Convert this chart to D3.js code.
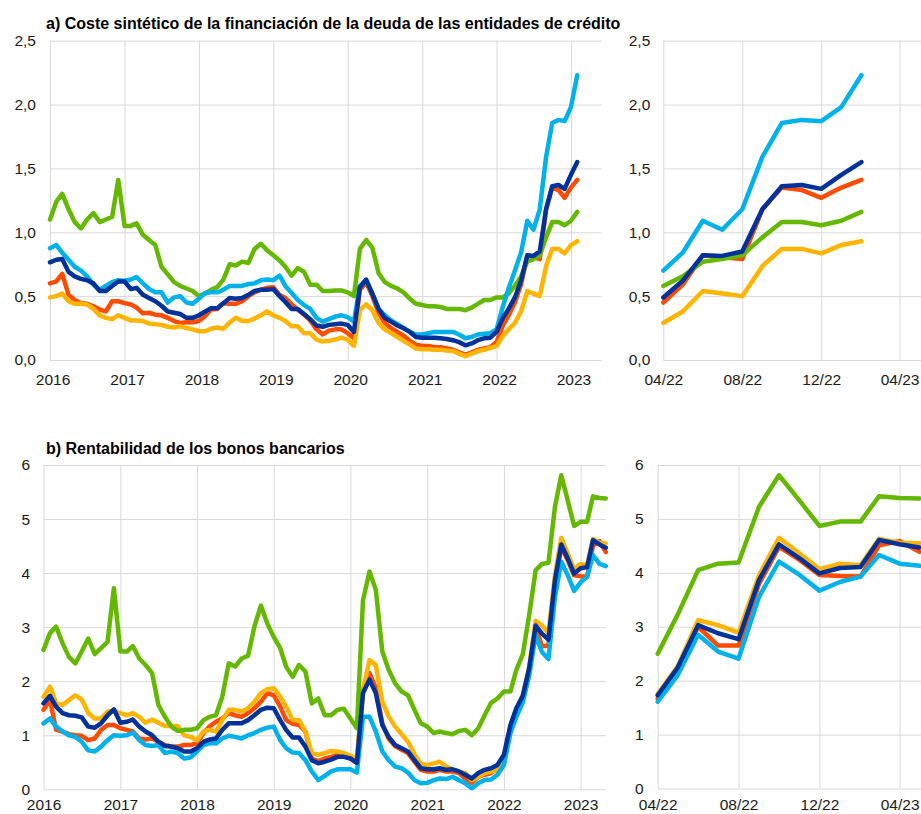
<!DOCTYPE html>
<html>
<head>
<meta charset="utf-8">
<script src="https://cdn.jsdelivr.net/npm/d3@7"></script>
<style>
body { margin: 0; background: #fff; }
svg { display: block; font-family: "Liberation Sans", Arial, sans-serif; }
</style>
</head>
<body>
<div id="chart"></div>
<script>
let width = 921
let height = 814

let titleA = "a) Coste sintético de la financiación de la deuda de las entidades de crédito"
let titleB = "b) Rentabilidad de los bonos bancarios"

// monthly data, first point 01/2016
let startMonth = new Date(2016, 0, 1)
let zoomStart = new Date(2022, 3, 1)

// a) cost of debt financing (%), 01/2016 - 02/2023
let costLightBlue = [
  0.875, 0.90, 0.84, 0.785, 0.73, 0.70, 0.655, 0.59, 0.55, 0.58, 0.61, 0.625,
  0.62, 0.63, 0.65, 0.60, 0.555, 0.53, 0.53, 0.45, 0.49, 0.50, 0.45, 0.44,
  0.48, 0.525, 0.53, 0.53, 0.55, 0.58, 0.58, 0.58, 0.595, 0.60, 0.625, 0.63,
  0.625, 0.66, 0.58, 0.525, 0.47, 0.43, 0.40, 0.33, 0.30, 0.32, 0.34, 0.35,
  0.335, 0.30, 0.58, 0.62, 0.52, 0.40, 0.35, 0.31, 0.28, 0.25, 0.22, 0.20,
  0.20, 0.21, 0.22, 0.22, 0.22, 0.22, 0.20, 0.17, 0.18, 0.20, 0.205, 0.21,
  0.24, 0.42, 0.56, 0.70, 0.84, 1.09, 1.02, 1.18, 1.59, 1.855, 1.88, 1.87,
  1.98, 2.23]
let costNavy = [
  0.765, 0.785, 0.79, 0.69, 0.655, 0.635, 0.625, 0.60, 0.54, 0.54, 0.58, 0.615,
  0.615, 0.555, 0.565, 0.51, 0.485, 0.46, 0.425, 0.38, 0.37, 0.36, 0.33, 0.33,
  0.35, 0.38, 0.405, 0.405, 0.445, 0.485, 0.48, 0.485, 0.51, 0.54, 0.55, 0.55,
  0.555, 0.50, 0.455, 0.40, 0.40, 0.36, 0.32, 0.27, 0.26, 0.275, 0.28, 0.285,
  0.275, 0.22, 0.57, 0.63, 0.52, 0.40, 0.33, 0.30, 0.27, 0.25, 0.22, 0.18,
  0.175, 0.175, 0.175, 0.17, 0.165, 0.155, 0.14, 0.115, 0.13, 0.155, 0.17, 0.175,
  0.22, 0.33, 0.40, 0.49, 0.62, 0.82, 0.815, 0.85, 1.18, 1.36, 1.37, 1.34,
  1.45, 1.55]
let costRed = [
  0.60, 0.615, 0.675, 0.51, 0.47, 0.445, 0.44, 0.42, 0.395, 0.38, 0.46, 0.46,
  0.445, 0.435, 0.41, 0.365, 0.37, 0.355, 0.35, 0.33, 0.305, 0.29, 0.295, 0.295,
  0.305, 0.345, 0.395, 0.40, 0.445, 0.44, 0.44, 0.46, 0.50, 0.53, 0.55, 0.565,
  0.57, 0.51, 0.485, 0.435, 0.395, 0.355, 0.31, 0.24, 0.20, 0.23, 0.24, 0.24,
  0.21, 0.17, 0.55, 0.61, 0.50, 0.37, 0.29, 0.25, 0.22, 0.19, 0.15, 0.12,
  0.11, 0.11, 0.10, 0.10, 0.09, 0.08, 0.06, 0.04, 0.06, 0.08, 0.09, 0.10,
  0.14, 0.27, 0.35, 0.45, 0.59, 0.82, 0.805, 0.79, 1.18, 1.35, 1.33, 1.27,
  1.35, 1.41]
let costYellow = [
  0.49, 0.50, 0.52, 0.46, 0.44, 0.44, 0.435, 0.40, 0.35, 0.33, 0.32, 0.35,
  0.33, 0.31, 0.31, 0.305, 0.285, 0.28, 0.275, 0.26, 0.255, 0.265, 0.25, 0.24,
  0.225, 0.225, 0.245, 0.255, 0.245, 0.295, 0.33, 0.305, 0.305, 0.325, 0.35, 0.38,
  0.35, 0.33, 0.305, 0.265, 0.265, 0.21, 0.21, 0.16, 0.145, 0.15, 0.16, 0.175,
  0.16, 0.11, 0.39, 0.435, 0.39, 0.29, 0.24, 0.21, 0.18, 0.15, 0.12, 0.09,
  0.085, 0.085, 0.08, 0.08, 0.075, 0.07, 0.05, 0.03, 0.05, 0.07, 0.08, 0.095,
  0.11, 0.19, 0.24, 0.29, 0.38, 0.54, 0.52, 0.50, 0.735, 0.87, 0.87, 0.835,
  0.90, 0.93]
let costGreen = [
  1.10, 1.24, 1.30, 1.18, 1.08, 1.03, 1.10, 1.15, 1.08, 1.10, 1.12, 1.41,
  1.05, 1.05, 1.07, 0.98, 0.94, 0.90, 0.73, 0.67, 0.61, 0.58, 0.56, 0.54,
  0.50, 0.52, 0.55, 0.57, 0.63, 0.75, 0.74, 0.77, 0.76, 0.87, 0.91, 0.86,
  0.82, 0.78, 0.73, 0.66, 0.72, 0.69, 0.59, 0.59, 0.54, 0.54, 0.545, 0.545,
  0.53, 0.50, 0.87, 0.94, 0.88, 0.68, 0.61, 0.58, 0.56, 0.53, 0.48, 0.44,
  0.43, 0.42, 0.42, 0.415, 0.40, 0.40, 0.40, 0.39, 0.41, 0.44, 0.47, 0.47,
  0.49, 0.49, 0.52, 0.58, 0.655, 0.77, 0.79, 0.82, 0.96, 1.08, 1.08, 1.055,
  1.09, 1.16]

// b) bank bond yields (%), 01/2016 - 05/2023
let yieldLightBlue = [
  1.22, 1.31, 1.16, 1.07, 1.00, 0.97, 0.88, 0.72, 0.70, 0.79, 0.91, 1.00,
  0.99, 1.00, 1.05, 0.91, 0.82, 0.80, 0.82, 0.67, 0.70, 0.67, 0.57, 0.59,
  0.70, 0.82, 0.85, 0.85, 0.94, 0.99, 0.97, 0.94, 1.00, 1.04, 1.10, 1.14,
  1.16, 0.91, 0.76, 0.68, 0.67, 0.54, 0.33, 0.17, 0.25, 0.33, 0.37, 0.37,
  0.37, 0.31, 1.34, 1.34, 1.07, 0.70, 0.54, 0.42, 0.39, 0.31, 0.17, 0.11,
  0.12, 0.17, 0.20, 0.19, 0.23, 0.17, 0.11, 0.02, 0.11, 0.17, 0.18, 0.27,
  0.45, 1.04, 1.34, 1.61, 2.10, 2.85, 2.54, 2.41, 3.56, 4.21, 3.96, 3.67,
  3.83, 3.93, 4.33, 4.17, 4.13]
let yieldNavy = [
  1.59, 1.73, 1.53, 1.41, 1.37, 1.36, 1.33, 1.16, 1.14, 1.22, 1.37, 1.48,
  1.23, 1.25, 1.29, 1.16, 1.07, 1.00, 0.88, 0.80, 0.79, 0.76, 0.70, 0.70,
  0.76, 0.88, 0.92, 0.94, 1.10, 1.22, 1.22, 1.22, 1.28, 1.37, 1.47, 1.51,
  1.50, 1.28, 1.10, 0.96, 0.96, 0.79, 0.54, 0.48, 0.51, 0.55, 0.60, 0.60,
  0.57, 0.49, 1.78, 2.03, 1.78, 1.19, 0.97, 0.82, 0.76, 0.70, 0.54, 0.39,
  0.37, 0.37, 0.39, 0.36, 0.37, 0.33, 0.27, 0.20, 0.30, 0.36, 0.39, 0.45,
  0.64, 1.19, 1.50, 1.73, 2.24, 3.03, 2.88, 2.77, 3.87, 4.53, 4.27, 3.99,
  4.09, 4.11, 4.61, 4.53, 4.47]
let yieldRed = [
  1.47, 1.65, 1.10, 1.07, 1.02, 1.00, 0.99, 0.91, 0.94, 1.10, 1.19, 1.19,
  1.13, 1.10, 1.07, 0.94, 0.92, 0.94, 0.88, 0.82, 0.79, 0.79, 0.82, 0.82,
  0.85, 1.04, 1.16, 1.25, 1.31, 1.41, 1.37, 1.34, 1.41, 1.50, 1.62, 1.78,
  1.74, 1.53, 1.28, 1.21, 1.19, 1.07, 0.57, 0.52, 0.57, 0.60, 0.64, 0.62,
  0.57, 0.49, 1.84, 2.15, 1.87, 1.22, 0.94, 0.80, 0.73, 0.67, 0.51, 0.36,
  0.33, 0.33, 0.36, 0.33, 0.33, 0.30, 0.20, 0.12, 0.23, 0.27, 0.30, 0.39,
  0.54, 1.16, 1.44, 1.67, 2.20, 3.00, 2.65, 2.65, 3.80, 4.48, 4.24, 3.96,
  3.94, 3.93, 4.51, 4.59, 4.39]
let yieldYellow = [
  1.71, 1.90, 1.59, 1.56, 1.65, 1.74, 1.66, 1.41, 1.31, 1.31, 1.44, 1.45,
  1.41, 1.37, 1.41, 1.34, 1.23, 1.29, 1.23, 1.17, 1.17, 1.17, 1.00, 0.97,
  0.91, 1.07, 1.10, 1.07, 1.28, 1.47, 1.47, 1.44, 1.50, 1.62, 1.78, 1.85,
  1.87, 1.71, 1.53, 1.28, 1.28, 1.07, 0.67, 0.64, 0.67, 0.71, 0.70, 0.67,
  0.62, 0.57, 1.84, 2.39, 2.30, 1.62, 1.35, 1.16, 1.02, 0.88, 0.65, 0.47,
  0.45, 0.48, 0.51, 0.42, 0.37, 0.33, 0.30, 0.17, 0.23, 0.30, 0.33, 0.36,
  0.54, 1.16, 1.45, 1.75, 2.26, 3.12, 3.03, 2.89, 3.96, 4.65, 4.36, 4.07,
  4.17, 4.14, 4.63, 4.56, 4.55]
let yieldGreen = [
  2.58, 2.89, 3.01, 2.70, 2.45, 2.33, 2.55, 2.79, 2.50, 2.61, 2.73, 3.72,
  2.55, 2.55, 2.65, 2.42, 2.30, 2.15, 1.56, 1.34, 1.16, 1.08, 1.10, 1.10,
  1.13, 1.28, 1.34, 1.37, 1.71, 2.33, 2.27, 2.42, 2.47, 3.01, 3.40, 3.07,
  2.82, 2.61, 2.27, 2.08, 2.30, 2.18, 1.59, 1.68, 1.37, 1.37, 1.47, 1.49,
  1.31, 1.13, 3.50, 4.03, 3.69, 2.55, 2.21, 1.96, 1.81, 1.74, 1.47, 1.22,
  1.16, 1.04, 1.07, 1.04, 1.02, 1.08, 1.10, 1.00, 1.13, 1.37, 1.60, 1.68,
  1.81, 1.81, 2.21, 2.50, 3.22, 4.05, 4.17, 4.19, 5.23, 5.81, 5.34, 4.87,
  4.95, 4.95, 5.42, 5.39, 5.38]

// tick labels
let yearLabels = ["2016", "2017", "2018", "2019", "2020", "2021", "2022", "2023"]
let zoomLabels = ["04/22", "08/22", "12/22", "04/23"]
let costTicks = [0, 0.5, 1, 1.5, 2, 2.5]
let yieldTicks = [0, 1, 2, 3, 4, 5, 6]

// draw order: last one on top
let colors = ["#ff4b00", "#ffb400", "#65b800", "#00b1ea", "#003299"]
let costSeries = [costRed, costYellow, costGreen, costLightBlue, costNavy]
let yieldSeries = [yieldRed, yieldYellow, yieldGreen, yieldLightBlue, yieldNavy]

let esLocale = d3.formatLocale({decimal: ",", thousands: ".", grouping: [3], currency: ["", " €"]})

let svg = d3.select("#chart")
    .append("svg")
    .attr("width", width)
    .attr("height", height)

function monthDate(i){
    return d3.timeMonth.offset(startMonth, i)
}

let yearTicks = yearLabels.map(y => new Date(+y, 0, 1))
let zoomTicks = zoomLabels.map(l => new Date(2000 + +l.slice(3), +l.slice(0, 2) - 1, 1))

function drawPanel(p){
    let x = d3.scaleTime().domain(p.xDomain).range([p.left, p.right])
    let y = d3.scaleLinear()
        .domain([p.yTicks[0], p.yTicks[p.yTicks.length - 1]])
        .range([p.bottom, p.top])

    let g = svg.append("g")

    // horizontal grid + value labels
    let yAxis = d3.axisLeft(y)
        .tickValues(p.yTicks)
        .tickSize(-(p.gridRight - p.left))
        .tickPadding(p.yPad)
        .tickFormat(p.yFormat)
    g.append("g")
        .attr("class", "yAxis")
        .attr("transform", `translate(${p.left},0)`)
        .call(yAxis)
        .call(a => a.select(".domain").remove())

    // vertical grid + date labels
    let xAxis = d3.axisBottom(x)
        .tickValues(p.xTicks)
        .tickSize(-(p.bottom - p.top))
        .tickPadding(p.xPad)
        .tickFormat((d, i) => p.xLabels[i])
    g.append("g")
        .attr("class", "xAxis")
        .attr("transform", `translate(0,${p.bottom})`)
        .call(xAxis)
        .call(a => a.select(".domain").remove())
        .selectAll("text").attr("dx", p.labelShift)

    g.selectAll(".tick line").attr("stroke", "#d9d9d9").attr("stroke-width", 1)
    g.selectAll(".tick text")
        .attr("fill", "#1a1a1a")
        .style("font-size", "15.5px")

    let line = d3.line()
        .x(d => x(d.date))
        .y(d => y(d.value))

    p.series.forEach((values, k) => {
        let pts = values
            .map((v, i) => ({date: monthDate(i), value: v}))
            .filter(d => d.date >= p.xDomain[0])
        g.append("path")
            .datum(pts)
            .attr("fill", "none")
            .attr("stroke", colors[k])
            .attr("stroke-width", 4.5)
            .attr("stroke-linejoin", "round")
            .attr("stroke-linecap", "round")
            .attr("d", line)
    })
}

// a) left: full history
drawPanel({
    left: 50, right: 601.7, gridRight: 601.7, top: 40.7, bottom: 360,
    xDomain: [startMonth, new Date(2023, 5, 1)],
    xTicks: yearTicks, xLabels: yearLabels, labelShift: 2.5, xPad: 14,
    yTicks: costTicks, yFormat: esLocale.format(".1f"), yPad: 14,
    series: costSeries
})
// a) right: zoom from 04/22
drawPanel({
    left: 663.3, right: 919, gridRight: 921, top: 40.7, bottom: 360,
    xDomain: [zoomStart, new Date(2023, 4, 1)],
    xTicks: zoomTicks, xLabels: zoomLabels, labelShift: 0, xPad: 14,
    yTicks: costTicks, yFormat: esLocale.format(".1f"), yPad: 13,
    series: costSeries
})
// b) left (labels pulled up a little so they stay inside the page)
drawPanel({
    left: 43.5, right: 605.8, gridRight: 605.8, top: 465, bottom: 789.3,
    xDomain: [startMonth, new Date(2023, 4, 1)],
    xTicks: yearTicks, xLabels: yearLabels, labelShift: 0, xPad: 10,
    yTicks: yieldTicks, yFormat: esLocale.format("d"), yPad: 13.5,
    series: yieldSeries
})
// b) right
drawPanel({
    left: 657.7, right: 919.5, gridRight: 921, top: 465, bottom: 788.5,
    xDomain: [zoomStart, new Date(2023, 4, 1)],
    xTicks: zoomTicks, xLabels: zoomLabels, labelShift: 0, xPad: 10,
    yTicks: yieldTicks, yFormat: esLocale.format("d"), yPad: 14,
    series: yieldSeries
})

// panel titles
svg.append("text")
    .attr("x", 46).attr("y", 29)
    .attr("font-size", 16).attr("font-weight", "bold")
    .attr("fill", "#000")
    .text(titleA)
svg.append("text")
    .attr("x", 46).attr("y", 454)
    .attr("font-size", 16).attr("font-weight", "bold")
    .attr("fill", "#000")
    .text(titleB)
</script>
</body>
</html>
